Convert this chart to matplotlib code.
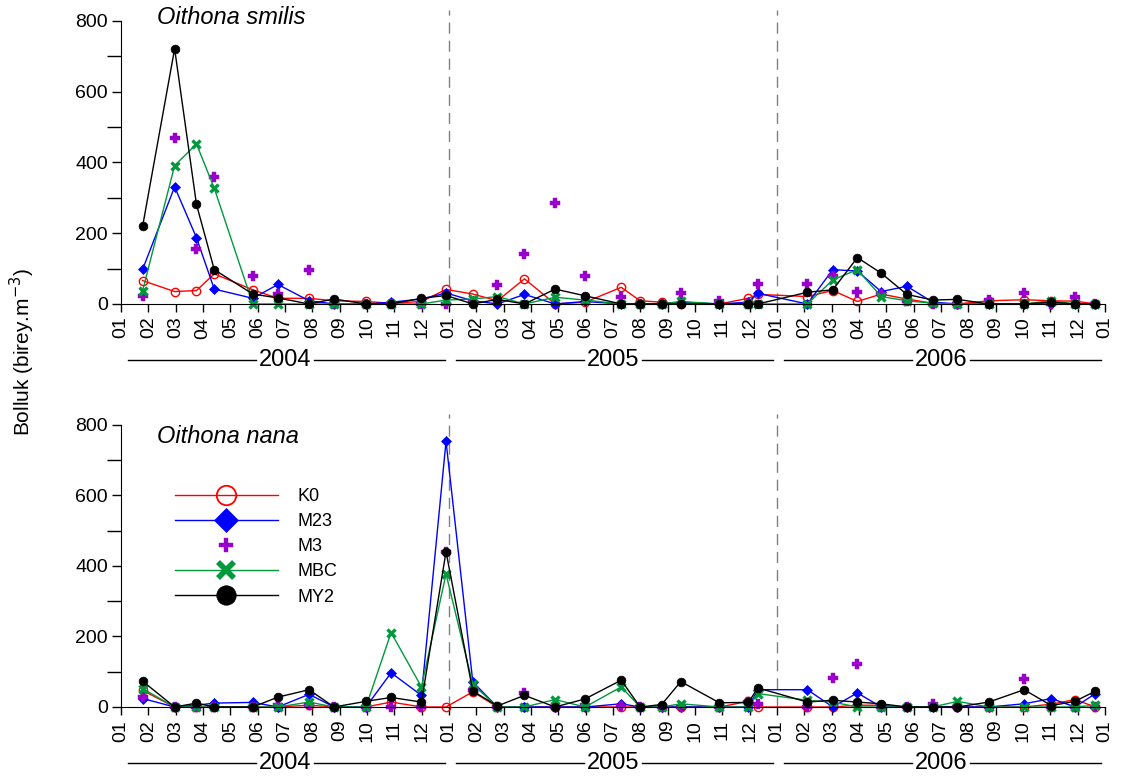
import numpy as np
import matplotlib.pyplot as plt
from matplotlib.lines import Line2D

plt.rcParams['font.family'] = ['Liberation Sans', 'DejaVu Sans']

# sampling dates in months counted from 01.2004
dates = [0.79, 1.96, 2.76, 3.41, 4.82, 5.74, 6.88, 7.79, 8.96, 9.88, 10.99, 11.89,
         12.87, 13.77, 14.76, 15.88, 16.98, 18.3, 18.99, 19.78, 20.48, 21.89, 22.95, 23.3,
         25.11, 26.04, 26.94, 27.81, 28.75, 29.7, 30.6, 31.75, 33.04, 34.04, 34.9, 35.65]

stations = ["K0", "M23", "M3", "MBC", "MY2"]
years = ["2004", "2005", "2006"]
month_labels = ["%02d" % (i % 12 + 1) for i in range(37)]

# Oithona smilis
smilis_k0 = [66, 35, 38, 85, 40, 16, 16, 9, 7, 2, 7, 41,
             28, 9, 71, 0, 5, 47, 9, 5, 0, 0, 16, 27,
             21, 38, 7, 28, 14, 2, 0, 9, 12, 9, 8, 0]
smilis_m23 = [98, 331, 187, 42, 16, 55, 9, 0, 0, 5, 14, 31,
              9, 0, 27, 0, 7, 0, 0, 0, 5, 0, 5, 30,
              0, 97, 93, 35, 50, 5, 0, 0, 0, 0, 0, 0]
smilis_m3 = [22, 469, 154, 358, 80, 28, 95, 0, 0, 0, 0, 0,
             5, 54, 140, 284, 78, 19, 0, 0, 31, 7, 0, 57,
             57, 80, 35, 28, 9, 0, 0, 12, 31, 0, 19, 0]
smilis_mbc = [38, 391, 452, 327, 0, 0, 0, 0, 0, 0, 0, 11,
              14, 21, 0, 19, 11, 0, 0, 0, 7, 0, 0, 0,
              0, 68, 97, 21, 9, 2, 0, 0, 0, 9, 0, 0]
smilis_my2 = [220, 721, 281, 97, 28, 17, 0, 14, 0, 0, 16, 24,
              0, 13, 0, 42, 23, 0, 0, 0, 0, 0, 0, 0,
              33, 40, 131, 87, 27, 11, 13, 0, 0, 5, 0, 0]

# Oithona nana
nana_k0 = [47, 0, 0, 0, 0, 0, 5, 0, 0, 14, 0, 0,
           43, 0, 0, 0, 0, 0, 0, 0, 0, 0, 16, 0,
           0, 0, 5, 5, 0, 0, 0, 0, 0, 8, 21, 0]
nana_m23 = [24, 0, 5, 11, 13, 0, 36, 0, 0, 97, 33, 753,
            71, 0, 0, 0, 0, 9, 0, 0, 0, 0, 0, 49,
            49, 0, 40, 0, 0, 0, 0, 0, 9, 24, 0, 38]
nana_m3 = [27, 0, 0, 0, 0, 5, 5, 0, 0, 0, 0, 440,
           49, 0, 40, 0, 5, 2, 0, 0, 0, 0, 14, 8,
           0, 82, 121, 0, 0, 8, 0, 0, 78, 0, 0, 0]
nana_mbc = [52, 0, 0, 0, 0, 0, 14, 0, 0, 211, 57, 377,
            64, 0, 0, 21, 0, 57, 0, 0, 9, 0, 0, 38,
            19, 14, 0, 0, 0, 0, 16, 0, 0, 0, 0, 5]
nana_my2 = [73, 0, 11, 0, 0, 28, 49, 0, 16, 27, 14, 440,
            45, 3, 33, 0, 23, 76, 0, 7, 72, 12, 13, 54,
            14, 19, 14, 9, 0, 0, 0, 14, 49, 4, 16, 45]

styles = {
    "K0": dict(color="#ff0000", marker="o", ms=6, mfc="none", mew=1.0, ls="-"),
    "M23": dict(color="#0000ff", marker="D", ms=5, mew=0.5, ls="-"),
    "M3": dict(color="#9900cc", marker="P", ms=7, mew=0.3, ls="none"),
    "MBC": dict(color="#00993c", marker="x", ms=5.5, mew=2.4, ls="-"),
    "MY2": dict(color="#000000", marker="o", ms=6.3, mew=0.5, ls="-"),
}
legend_ms = {"K0": 14, "M23": 12.5, "M3": 10.5, "MBC": 11.5, "MY2": 14}

fig = plt.figure(figsize=(11.24, 7.8), dpi=100)
ax1 = fig.add_axes([0.1077, 0.6103, 0.8754, 0.3767])
ax2 = fig.add_axes([0.1077, 0.0936, 0.8754, 0.3754])


def draw_panel(ax, series, title, title_y):
    for name, vals in zip(stations, series):
        st = styles[name]
        ax.plot(dates, vals, lw=1, clip_on=False, **st)
    ax.axvline(12, color="gray", ls=(0, (8, 5)), lw=1, zorder=0)
    ax.axvline(24, color="gray", ls=(0, (8, 5)), lw=1, zorder=0)
    ax.set_xlim(0, 36)
    ax.set_ylim(0, 830)
    for s in ["top", "right"]:
        ax.spines[s].set_visible(False)
    ax.spines["left"].set_bounds(0, 800)
    ax.set_yticks(range(0, 801, 200))
    ax.set_yticks(range(100, 800, 200), minor=True)
    ax.set_xticks(range(37))
    ax.set_xticklabels(month_labels, rotation=90)
    ax.tick_params(axis="both", which="both", direction="out", width=1, labelsize=14)
    ax.tick_params(axis="y", which="major", length=6.5, pad=3)
    ax.tick_params(axis="y", which="minor", length=10)
    ax.tick_params(axis="x", length=5.7, pad=3.5)
    ax.text(1.32, title_y, title, fontsize=17, style="italic", va="baseline")
    # year labels under the month ticks
    tr = ax.get_xaxis_transform()
    yy = -0.19
    for i, yr in enumerate(years):
        x0 = i * 12 + 0.25
        x1 = i * 12 + 11.85
        xc = i * 12 + 6
        ax.plot([x0, xc - 1.05], [yy, yy], color="black", lw=1, transform=tr, clip_on=False)
        ax.plot([xc + 1.05, x1], [yy, yy], color="black", lw=1, transform=tr, clip_on=False)
        ax.text(xc, yy, yr, transform=tr, ha="center", va="center", fontsize=17)


draw_panel(ax1, [smilis_k0, smilis_m23, smilis_m3, smilis_mbc, smilis_my2],
           "Oithona smilis", 791)
draw_panel(ax2, [nana_k0, nana_m23, nana_m3, nana_mbc, nana_my2],
           "Oithona nana", 749)

handles = []
for name in stations:
    st = dict(styles[name])
    st["ms"] = legend_ms[name]
    if name == "MBC":
        st["mew"] = 4
    elif name == "K0":
        st["mew"] = 1.3
    handles.append(Line2D([], [], lw=1, **st))
ax2.legend(handles, stations, loc="upper left", bbox_to_anchor=(175 / 1124, 1 - 488 / 780),
           bbox_transform=fig.transFigure, frameon=False, fontsize=13, borderpad=0,
           handlelength=5.7, handletextpad=1.1, labelspacing=0.45, borderaxespad=0)

fig.text(0.0196, 1 - 352 / 780, "Bolluk (birey.m$^{-3}$)", rotation=90,
         ha="center", va="center", fontsize=15)

fig.savefig("out.png", dpi=100)
